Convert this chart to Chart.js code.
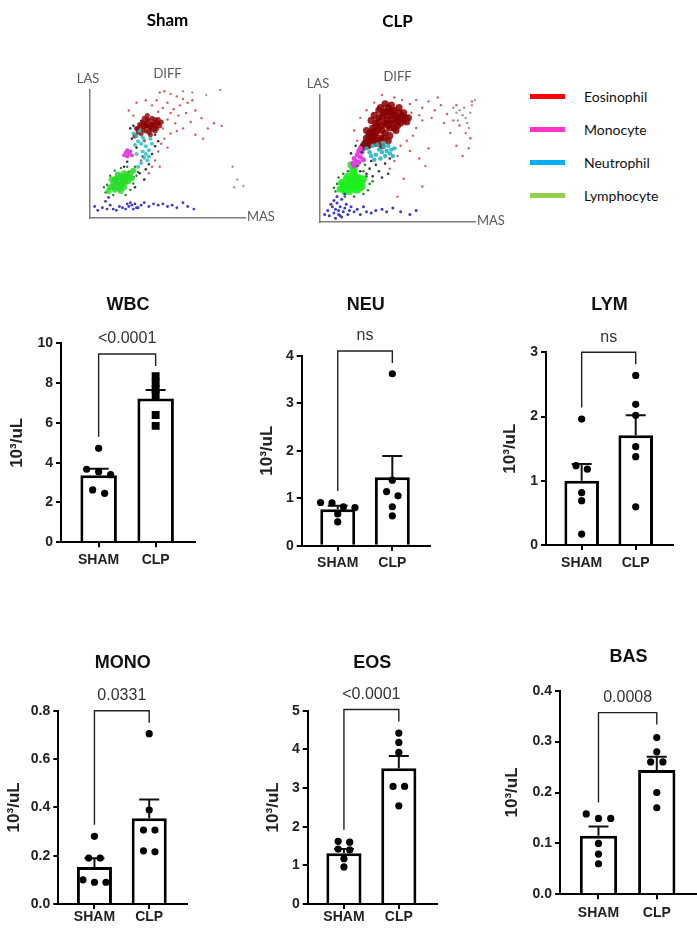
<!DOCTYPE html>
<html lang="en">
<head>
    <meta charset="utf-8">
    <title>Sham vs CLP blood counts</title>
    <script src="https://cdn.jsdelivr.net/npm/chart.js"></script>
    <style>
        body { margin: 0; width: 697px; height: 938px; background: #fff; position: relative; overflow: hidden; }
        canvas { position: absolute; }
        #legend { position: absolute; left: 530px; top: 80px; font-family: Lato, sans-serif; font-size: 14px; color: #111; }
        .row { height: 33px; display: flex; align-items: center; }
        .swatch { width: 35px; height: 5px; margin-right: 19px; }
    </style>
</head>
<body>
    <div id="legend"></div>
    <script>
        // ---- flow cytometry scatter (MAS / LAS, arbitrary 0-100 units) ----
        const shamEos = [[30,70],[32,73],[34,75],[35,71],[36,74],[37,72],[38,76],[39,70],[40,73],[41,75],[42,71],[43,74],[36,68],[38,67],[33,66],[40,78],[35,78],[44,77],[31,67],[45,72],[37,80],[42,68],[29,64],[46,75],[39,65],
                         [31,70],[33,72],[35,74],[37,77],[39,73],[41,72],[43,70],[40,69],[38,71],[36,72],[34,69],[44,74],[42,77]];
        const shamEosSparse = [[45,98],[48,99],[52,97],[56,95],[60,93],[63,90],[66,92],[58,88],[54,85],[50,90],[47,86],[43,92],[40,88],[44,83],[52,82],[57,80],[62,82],[68,84],[72,78],[76,70],[80,74],[85,72],[68,65],[73,62],[60,70],[55,74],[50,77],[48,62],[46,58],[44,52],[42,45],[40,40],[38,35],[45,40],[50,55],[35,60],[33,45],[30,90],[36,92],[25,84],[28,80],[65,75],[56,68],[52,66],[47,70]];
        const shamNeu = [[28,66],[30,64],[32,68],[34,63],[31,60],[33,58],[35,61],[36,56],[34,52],[36,50],[38,53],[35,47],[37,45],[33,43],[31,40],[38,48],[29,57],[40,58],[30,50],[39,62]];
        const shamMono = [[22,49],[23,51],[24,48],[25,50],[26,52],[24,53],[27,49]];
        const shamDark = [[26,70],[28,72],[27,62],[30,55],[34,48],[38,42],[40,50],[42,56],[36,38],[32,35],[28,32],[25,36],[22,40],[35,30],[42,65],[44,60],[33,76],[24,44],[18,30],[29,24]];
        const shamLym = [[13,24],[15,27],[16,22],[18,25],[19,29],[20,26],[21,31],[22,24],[23,28],[24,33],[17,31],[14,30],[25,29],[20,21],[26,35],[22,35],[12,21],[27,31],[18,34],[28,37],
                         [15,24],[17,28],[19,23],[21,27],[23,31],[16,30],[20,33],[22,29],[25,32]];
        const shamLymSparse = [[10,20],[11,26],[13,33],[16,37],[20,39],[24,40],[28,27],[30,33],[26,22],[23,18],[15,18],[29,40],[31,36],[9,24]];
        const shamBlue = [[3,9],[5,6],[8,8],[11,7],[13,10],[15,7],[17,6],[19,9],[21,8],[23,7],[25,9],[27,10],[29,11],[31,8],[33,10],[35,12],[38,9],[41,11],[44,10],[47,11],[50,9],[53,10],[56,8],[60,12],[63,9],[67,7],[10,13],[12,16],[26,12],[28,7],[30,8],[24,11]];
        const shamGray = [[92,40],[95,30],[93,24],[99,25],[60,99],[84,100],[75,96],[66,98]];

        const clpEos = [[27,58],[29,62],[30,66],[31,60],[32,70],[33,64],[34,74],[35,68],[36,78],[37,72],[38,82],[39,66],[40,76],[41,86],[42,70],[43,80],[44,90],[45,74],[46,84],[47,78],[48,88],[49,72],[50,82],[51,86],[52,78],[53,84],[55,82],[56,79],[36,62],[33,80],[38,88],[42,93],[46,92],[40,60],[44,64],[30,72],
                        [28,60],[30,63],[32,67],[34,71],[36,75],[38,79],[40,83],[42,87],[44,87],[46,88],[48,84],[50,80],[52,82],[54,80],[50,76],[48,74],[46,80],[44,76],[42,78],[40,72],[38,74],[36,70],[34,66],[32,62],[30,60],[35,84],[39,90],[43,84],[47,86],[51,90],[54,86],[57,82],[45,68],[41,66],[37,64],[33,68]];
        const clpEosSparse = [[58,93],[62,96],[66,90],[70,95],[74,88],[78,92],[82,85],[86,80],[90,76],[94,70],[97,66],[96,58],[92,52],[88,60],[84,70],[80,78],[72,82],[66,80],[62,74],[60,68],[56,64],[52,60],[58,56],[64,50],[70,58],[68,44],[50,52],[48,48],[45,42],[66,28],[50,20],[54,34],[40,100],[48,98],[53,96],[88,92],[76,98],[59,86],[64,84],[24,64],[22,72],[26,82],[30,88],[35,94],[98,95]];
        const clpGray = [[86,90],[88,86],[90,88],[92,84],[94,82],[95,78],[96,74],[98,92],[100,96],[89,80],[93,90],[97,86]];
        const clpNeu = [[30,58],[32,55],[34,60],[36,53],[38,57],[40,55],[41,59],[42,52],[43,56],[44,60],[45,54],[46,57],[47,52],[39,50],[37,61],[35,49],[48,58],[33,52],[41,62]];
        const clpMono = [[21,46],[22,50],[23,48],[24,53],[25,47],[26,51],[27,55],[25,56],[22,44],[28,49],[24,45],[26,58]];
        const clpDark = [[28,62],[30,68],[27,55],[33,48],[36,45],[38,40],[42,46],[45,50],[32,42],[30,38],[26,40],[44,38],[40,35],[34,36],[23,60],[20,54]];
        const clpLym = [[13,26],[15,29],[16,24],[18,27],[19,31],[20,34],[21,28],[22,38],[23,32],[24,29],[25,35],[26,27],[27,31],[22,42],[20,45],[17,34],[14,31],[24,25],[28,34],[19,24],
                        [15,26],[17,30],[19,28],[21,32],[23,35],[21,40],[25,31],[27,28],[18,36],[22,26]];
        const clpLymSparse = [[10,24],[11,30],[12,35],[15,38],[18,40],[24,44],[28,40],[30,36],[32,30],[31,25],[28,22],[22,20],[16,20],[9,27],[34,32],[29,45]];
        const clpBlue = [[3,6],[5,9],[6,5],[8,12],[9,7],[10,10],[11,15],[12,6],[12,9],[13,12],[14,18],[15,8],[16,11],[17,14],[18,6],[19,9],[20,12],[11,20],[9,17],[7,14],[14,4],[22,8],[24,10],[26,6],[28,12],[30,8],[33,7],[36,9],[40,10],[43,8],[47,11],[52,8],[58,6],[62,9],[16,22],[13,5],[10,3]];

        const cellTypes = ['Eosinophil', 'Monocyte', 'Neutrophil', 'Lymphocyte'];
        const legendColors = ['#ff0000', '#ff33cc', '#00b0f0', '#92d050'];

        // ---- counts (10^3/uL) ----
        const groups = ['SHAM', 'CLP'];

        const wbcSham = [4.72, 3.67, 3.55, 3.40, 2.63, 2.46];
        const wbcClp = [8.35, 8.02, 7.70, 7.40, 6.40, 5.85];
        const wbcMean = [3.37, 7.22];
        const wbcSem = [0.32, 0.43];
        const wbcTicks = [0, 2, 4, 6, 8, 10];

        const neuSham = [0.91, 0.80, 0.82, 0.90, 0.67, 0.50];
        const neuClp = [3.62, 1.38, 1.05, 1.14, 0.82, 0.63];
        const neuMean = [0.77, 1.44];
        const neuSem = [0.07, 0.45];
        const neuTicks = [0, 1, 2, 3, 4];

        const lymSham = [1.96, 1.235, 1.18, 0.815, 0.69, 0.17];
        const lymClp = [2.64, 2.19, 2.02, 1.53, 1.375, 0.595];
        const lymMean = [1.0, 1.71];
        const lymSem = [0.26, 0.31];
        const lymTicks = [0, 1, 2, 3];

        const monoSham = [0.28, 0.19, 0.19, 0.10, 0.09, 0.09];
        const monoClp = [0.705, 0.389, 0.306, 0.306, 0.22, 0.216];
        const monoMean = [0.153, 0.355];
        const monoSem = [0.036, 0.078];
        const monoTicks = [0, 0.2, 0.4, 0.6, 0.8];

        const eosSham = [1.62, 1.60, 1.42, 1.40, 1.17, 0.96];
        const eosClp = [4.42, 4.18, 3.92, 3.04, 3.04, 2.54];
        const eosMean = [1.31, 3.51];
        const eosSem = [0.11, 0.32];
        const eosTicks = [0, 1, 2, 3, 4, 5];

        const basSham = [0.158, 0.149, 0.149, 0.10, 0.079, 0.06];
        const basClp = [0.308, 0.28, 0.26, 0.26, 0.20, 0.17];
        const basMean = [0.115, 0.244];
        const basSem = [0.018, 0.026];
        const basTicks = [0, 0.1, 0.2, 0.3, 0.4];

        const pLabels = ['<0.0001', 'ns', 'ns', '0.0331', '<0.0001', '0.0008'];

        const FONT = 'Liberation Sans, Arial, sans-serif';

        function addCanvas(left, top, w, h) {
            const c = document.createElement('canvas');
            c.width = w; c.height = h;
            c.style.left = left + 'px'; c.style.top = top + 'px';
            document.body.appendChild(c);
            return c;
        }

        // LAS / MAS axis names next to the flow plot axes
        const axisNames = {
            id: 'axisNames',
            afterDraw(chart) {
                const { ctx, chartArea: a } = chart;
                ctx.save();
                ctx.fillStyle = '#595959';
                ctx.font = '13px Lato, sans-serif';
                ctx.textBaseline = 'middle';
                ctx.textAlign = 'center';
                ctx.fillText('LAS', a.left - 2, a.top - 11.5);
                ctx.textAlign = 'left';
                ctx.fillText('MAS', a.right + 2, a.bottom - 1);
                ctx.restore();
            }
        };

        function flowPlot(left, top, h, title, titlePad, diffPad, sets) {
            const c = addCanvas(left, top, 230, h);
            const axis = {
                type: 'linear', min: 0, max: 100,
                grid: { display: false },
                ticks: { display: false },
                border: { display: true, color: '#7f7f7f', width: 1.5 }
            };
            new Chart(c, {
                type: 'scatter',
                data: {
                    datasets: sets.map(s => ({
                        data: s[0].map(([x, y]) => ({ x, y })),
                        pointBackgroundColor: s[1],
                        pointBorderWidth: 0,
                        pointRadius: s[2],
                        clip: 4
                    }))
                },
                options: {
                    responsive: false,
                    animation: false,
                    devicePixelRatio: 1,
                    layout: { padding: { left: 30, right: 45, top: 0, bottom: h - (top + titlePad.area) } },
                    plugins: {
                        legend: { display: false },
                        tooltip: { enabled: false },
                        title: { display: true, text: title, fullSize: false, color: '#000', font: { family: 'Lato, sans-serif', size: 17, weight: 'bold' }, padding: { top: titlePad.top, bottom: 0 } },
                        subtitle: { display: true, text: 'DIFF', fullSize: false, color: '#595959', font: { family: 'Lato, sans-serif', size: 13 }, padding: diffPad }
                    },
                    scales: {
                        x: Object.assign({ afterFit: s => { s.height = 0; } }, axis),
                        y: Object.assign({ afterFit: s => { s.width = 0; } }, axis)
                    }
                },
                plugins: [axisNames]
            });
        }

        flowPlot(60, 0, 230, 'Sham', { top: 10.5, area: 218 }, { top: 35.3, bottom: 8.2 }, [
            [shamBlue, '#3b3bc8', 1.4],
            [shamGray, '#9a9a9a', 1.2],
            [shamEosSparse, 'rgba(190,40,40,0.75)', 1.2],
            [shamLymSparse, '#2f7f2f', 1.2],
            [shamLym, 'rgba(40,220,40,0.85)', 3],
            [shamNeu, 'rgba(40,190,200,0.85)', 2],
            [shamMono, '#e040e0', 2],
            [shamEos, 'rgba(139,0,0,0.8)', 2.5],
            [shamDark, '#333344', 1.3]
        ]);

        flowPlot(290, 0, 235, 'CLP', { top: 11.5, area: 222 }, { top: 37.6, bottom: 9.9 }, [
            [clpBlue, '#3b3bc8', 1.5],
            [clpGray, '#9a9a9a', 1.2],
            [clpEosSparse, 'rgba(190,40,40,0.75)', 1.2],
            [clpLymSparse, '#2f7f2f', 1.3],
            [clpDark, '#333344', 1.3],
            [clpNeu, 'rgba(40,180,190,0.9)', 2.2],
            [clpMono, '#e040e0', 2.5],
            [clpEos, 'rgba(139,0,0,0.85)', 3.6],
            [clpLym, 'rgba(30,240,30,0.9)', 3.6]
        ]);

        // legend
        const legend = document.getElementById('legend');
        cellTypes.forEach((name, i) => {
            const row = document.createElement('div');
            row.className = 'row';
            const sw = document.createElement('span');
            sw.className = 'swatch';
            sw.style.background = legendColors[i];
            const tx = document.createElement('span');
            tx.textContent = name;
            row.appendChild(sw); row.appendChild(tx);
            legend.appendChild(row);
        });

        // ---- bar + dot panels ----
        const panels = [
            { title: 'WBC', sham: wbcSham, clp: wbcClp, mean: wbcMean, sem: wbcSem, ticks: wbcTicks, dec: 0, clpMarker: 'rect',
              box: { l: 61, r: 195, t: 343.3, b: 542.3, titleY: 305, yTitleX: 17, labelY: 560, bracket: 9.46 } },
            { title: 'NEU', sham: neuSham, clp: neuClp, mean: neuMean, sem: neuSem, ticks: neuTicks, dec: 0, clpMarker: 'circle',
              box: { l: 301.7, r: 430, t: 355.7, b: 545.7, titleY: 305, yTitleX: 267, labelY: 563, bracket: 4.1 } },
            { title: 'LYM', sham: lymSham, clp: lymClp, mean: lymMean, sem: lymSem, ticks: lymTicks, dec: 0, clpMarker: 'circle',
              box: { l: 546, r: 673, t: 352.3, b: 545, titleY: 305, yTitleX: 510, labelY: 563, bracket: 3.0 } },
            { title: 'MONO', sham: monoSham, clp: monoClp, mean: monoMean, sem: monoSem, ticks: monoTicks, dec: 1, clpMarker: 'circle',
              box: { l: 58.3, r: 187, t: 710.7, b: 904, titleY: 663, yTitleX: 14, labelY: 917, bracket: 0.8 } },
            { title: 'EOS', sham: eosSham, clp: eosClp, mean: eosMean, sem: eosSem, ticks: eosTicks, dec: 0, clpMarker: 'circle',
              box: { l: 307.7, r: 436.7, t: 710.7, b: 904, titleY: 663, yTitleX: 273, labelY: 917, bracket: 5.03 } },
            { title: 'BAS', sham: basSham, clp: basClp, mean: basMean, sem: basSem, ticks: basTicks, dec: 1, clpMarker: 'circle',
              box: { l: 560, r: 697, t: 690.7, b: 894.3, titleY: 656.7, yTitleX: 512, labelY: 913, bracket: 0.357 } }
        ];

        // spread points with nearly equal values side by side, like a dot plot
        function spread(values, group, thr) {
            const sorted = values.slice().sort((a, b) => b - a);
            const clusters = [];
            sorted.forEach(v => {
                const last = clusters[clusters.length - 1];
                if (last && last[last.length - 1] - v < thr) last.push(v);
                else clusters.push([v]);
            });
            const pts = [];
            clusters.forEach(cl => cl.forEach((v, i) => {
                pts.push({ x: group + (i - (cl.length - 1) / 2) * 0.21, y: v, g: group });
            }));
            return pts;
        }

        function statsPlugin(p, pLabel) {
            return {
                id: 'stats',
                afterDatasetDraw(chart, args) {
                    if (args.index !== 0) return;
                    const { ctx, scales: { x, y } } = chart;
                    ctx.save();
                    ctx.strokeStyle = '#111';
                    ctx.lineWidth = 2;
                    p.mean.forEach((m, i) => {
                        const px = x.getPixelForValue(i);
                        const y0 = y.getPixelForValue(m);
                        const y1 = y.getPixelForValue(m + p.sem[i]);
                        ctx.beginPath();
                        ctx.moveTo(px, y0); ctx.lineTo(px, y1);
                        ctx.moveTo(px - 10, y1); ctx.lineTo(px + 10, y1);
                        ctx.stroke();
                    });
                    ctx.restore();
                },
                afterDatasetsDraw(chart) {
                    const { ctx, scales: { x, y } } = chart;
                    const xl = x.getPixelForValue(0), xr = x.getPixelForValue(1);
                    const top = y.getPixelForValue(p.box.bracket);
                    const legL = y.getPixelForValue(Math.max(...p.sham)) - 11.5;
                    ctx.save();
                    ctx.strokeStyle = '#222';
                    ctx.lineWidth = 1.4;
                    ctx.beginPath();
                    ctx.moveTo(xl, legL); ctx.lineTo(xl, top); ctx.lineTo(xr, top); ctx.lineTo(xr, top + 12);
                    ctx.stroke();
                    ctx.fillStyle = '#333';
                    ctx.font = '16px ' + FONT;
                    ctx.textAlign = 'center';
                    ctx.textBaseline = 'middle';
                    ctx.fillText(pLabel, (xl + xr) / 2, top - 15);
                    ctx.restore();
                }
            };
        }

        panels.forEach((p, k) => {
            const b = p.box;
            const cx = Math.floor(b.l) - 61;
            const cy = Math.floor(b.titleY - 15);
            const cw = Math.ceil(b.r - cx + 10);
            const ch = Math.ceil(b.b - cy + 30);
            const c = addCanvas(cx, cy, cw, ch);
            const yMax = p.ticks[p.ticks.length - 1];
            const thr = yMax * 0.028;
            const tickFont = { family: FONT, size: 14, weight: 'bold' };
            const ink = { display: true, drawOnChartArea: false, drawTicks: true, tickLength: 5, color: '#000', lineWidth: 2, offset: false };

            new Chart(c, {
                type: 'bar',
                data: {
                    datasets: [
                        {
                            type: 'bar',
                            data: p.mean.map((m, i) => ({ x: i, y: m })),
                            backgroundColor: '#fff',
                            borderColor: '#000',
                            borderWidth: 3,
                            categoryPercentage: 1,
                            barPercentage: 0.64,
                            order: 2
                        },
                        {
                            type: 'scatter',
                            data: spread(p.sham, 0, thr).concat(spread(p.clp, 1, thr)),
                            pointBackgroundColor: '#000',
                            pointBorderWidth: 0,
                            pointStyle: ctx => (ctx.raw && ctx.raw.g === 1) ? p.clpMarker : 'circle',
                            pointRadius: ctx => (ctx.raw && ctx.raw.g === 1 && p.clpMarker === 'rect') ? 5.6 : 3.6,
                            order: 1
                        }
                    ]
                },
                options: {
                    responsive: false,
                    animation: false,
                    devicePixelRatio: 1,
                    layout: { padding: { left: 0, top: 0, right: cw - (b.r - cx), bottom: ch - (b.b - cy) - 30 } },
                    plugins: {
                        legend: { display: false },
                        tooltip: { enabled: false },
                        title: {
                            display: true, text: p.title, fullSize: false, color: '#111',
                            font: { family: FONT, size: 18, weight: 'bold' },
                            padding: { top: b.titleY - cy - 10.8, bottom: b.t - b.titleY - 10.8 }
                        }
                    },
                    scales: {
                        x: {
                            type: 'linear', min: -0.66, max: 1.69, offset: false,
                            afterBuildTicks: s => { s.ticks = groups.map((g, i) => ({ value: i })); },
                            afterFit: s => { s.height = 30; },
                            ticks: { callback: v => groups[v], font: tickFont, color: '#222', autoSkip: false, maxRotation: 0,
                                     padding: Math.max(0, b.labelY - b.b - 13.4) },
                            grid: ink,
                            border: { display: true, color: '#000', width: 2 }
                        },
                        y: {
                            min: 0, max: yMax,
                            afterBuildTicks: s => { s.ticks = p.ticks.map(v => ({ value: v })); },
                            afterFit: s => { s.width = b.l - cx; },
                            ticks: { callback: v => v.toFixed(p.dec), font: tickFont, color: '#222', padding: 3 },
                            grid: ink,
                            border: { display: true, color: '#000', width: 2 },
                            title: {
                                display: true, text: '10³/uL', color: '#222',
                                font: { family: FONT, size: 17, weight: 'bold' },
                                padding: { top: b.yTitleX - cx - 10.2, bottom: 0 }
                            }
                        }
                    }
                },
                plugins: [statsPlugin(p, pLabels[k])]
            });
        });
    </script>
</body>
</html>
